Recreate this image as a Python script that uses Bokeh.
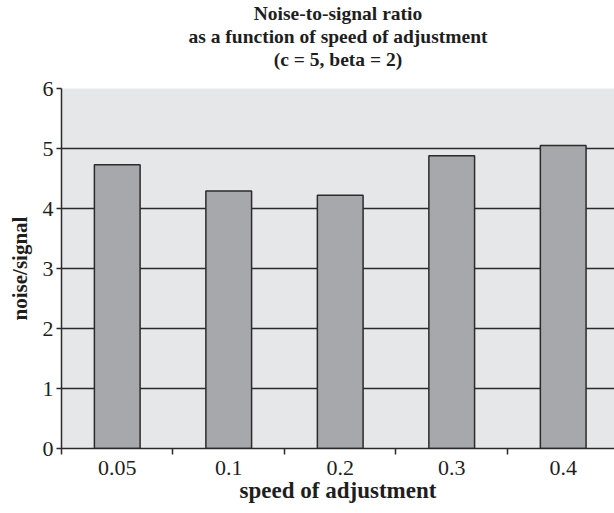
from bokeh.plotting import figure
from bokeh.models import FixedTicker, Title, Range1d, ColumnDataSource
from bokeh.embed import file_html
from bokeh.resources import INLINE

categories = ["0.05", "0.1", "0.2", "0.3", "0.4"]
noise_signal = [4.73, 4.29, 4.22, 4.88, 5.05]
y_ticks = [0, 1, 2, 3, 4, 5, 6]
title_lines = ["Noise-to-signal ratio", "as a function of speed of adjustment", "(c = 5, beta = 2)"]

FONT = "Liberation Serif"
DARK = "#2b2b2b"
TXT = "#1e1e1e"

xs = list(range(len(categories)))
src = ColumnDataSource(dict(x=xs, top=noise_signal))

p = figure(width=614, height=513, output_backend="svg", toolbar_location=None,
           x_range=Range1d(-0.5, len(categories) - 0.5 - 0.04), y_range=Range1d(0, 6),
           min_border_left=61, min_border_right=0, min_border_top=0, min_border_bottom=65)
p.title = None
# spacer between title block and plot frame
p.add_layout(Title(text=" ", text_font=FONT, text_font_size="16px", standoff=0), "above")
for line in reversed(title_lines):
    p.add_layout(Title(text=line, align="center", text_font=FONT, text_font_size="19.5px",
                       text_font_style="bold", text_color=TXT, standoff=0, offset=0), "above")

p.background_fill_color = "#e6e7e9"
p.border_fill_color = "white"
p.outline_line_color = None

p.vbar(x="x", top="top", width=0.41, bottom=0, source=src, fill_color="#a7a8ab",
       line_color=DARK, line_width=1.5)

p.xgrid.visible = False
p.ygrid.ticker = FixedTicker(ticks=y_ticks)
p.ygrid.grid_line_color = DARK
p.ygrid.grid_line_width = 1.5
p.ygrid.level = "underlay"

xa = p.xaxis[0]
xa.ticker = FixedTicker(ticks=xs, minor_ticks=[i - 0.5 for i in range(len(categories) + 1)])
xa.major_label_overrides = {i: c for i, c in enumerate(categories)}
xa.major_tick_line_color = None
xa.minor_tick_in = 0
xa.minor_tick_out = 6
xa.minor_tick_line_color = DARK
xa.minor_tick_line_width = 1.5
xa.axis_line_color = DARK
xa.axis_line_width = 1.5
xa.major_label_text_font = FONT
xa.major_label_text_font_size = "22px"
xa.major_label_text_color = TXT
xa.major_label_standoff = 6
xa.axis_label = "speed of adjustment"
xa.axis_label_text_font = FONT
xa.axis_label_text_font_size = "23px"
xa.axis_label_text_font_style = "bold"
xa.axis_label_text_color = TXT
xa.axis_label_standoff = 0

ya = p.yaxis[0]
ya.ticker = FixedTicker(ticks=y_ticks)
ya.minor_tick_line_color = None
ya.major_tick_in = 0
ya.major_tick_out = 5
ya.major_tick_line_color = DARK
ya.major_tick_line_width = 1.5
ya.axis_line_color = DARK
ya.axis_line_width = 1.5
ya.major_label_text_font = FONT
ya.major_label_text_font_size = "22px"
ya.major_label_text_color = TXT
ya.major_label_standoff = 3
ya.axis_label = "noise/signal"
ya.axis_label_text_font = FONT
ya.axis_label_text_font_size = "21px"
ya.axis_label_text_font_style = "bold"
ya.axis_label_text_color = TXT
ya.axis_label_standoff = 8

open("out.html", "w").write(file_html(p, INLINE))
